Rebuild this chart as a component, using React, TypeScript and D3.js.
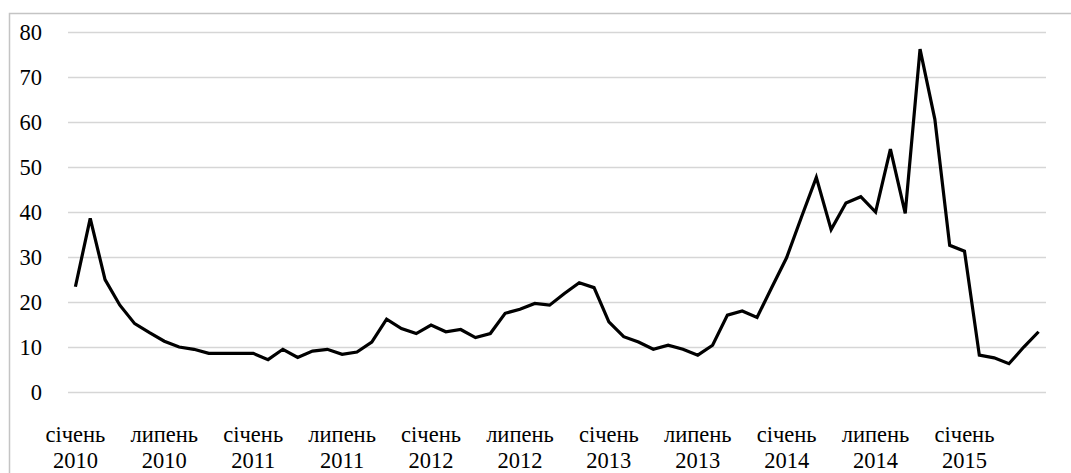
/* eslint-disable */
import React, { useEffect, useRef } from 'react';
import * as d3 from 'd3';

// monthly values, січень 2010 .. червень 2015
const months = d3.range(66).map((i) => `m${i}`);
const values = [
  23.5, 38.7, 25.1, 19.4, 15.3, 13.3, 11.4, 10.1, 9.6, 8.7, 8.7, 8.7,
  8.7, 7.3, 9.6, 7.8, 9.2, 9.6, 8.5, 9.0, 11.2, 16.3, 14.2, 13.1,
  15.0, 13.5, 14.0, 12.2, 13.1, 17.6, 18.5, 19.8, 19.4, 22.0, 24.4, 23.3,
  15.7, 12.4, 11.2, 9.6, 10.5, 9.6, 8.3, 10.5, 17.2, 18.1, 16.7, 23.4,
  30.0, 39.0, 47.8, 36.2, 42.1, 43.5, 40.1, 54.1, 39.8, 76.3, 60.7, 32.7,
  31.4, 8.3, 7.7, 6.4, 10.1, 13.5,
];
const yTicks = [0, 10, 20, 30, 40, 50, 60, 70, 80];
const tickMonths = ['січень', 'липень'];
const tickYears = ['2010', '2010', '2011', '2011', '2012', '2012', '2013', '2013', '2014', '2014', '2015'];

export default function App() {
  const ref = useRef<SVGSVGElement>(null);

  useEffect(() => {
    if (!ref.current) return;
    const svg = d3.select(ref.current);
    svg.selectAll('*').remove();

    const width = 1071;
    const height = 473;
    const font = '"Liberation Serif", "DejaVu Serif", serif';

    // outer frame
    svg
      .append('rect')
      .attr('x', 9.5)
      .attr('y', 13.5)
      .attr('width', width + 20)
      .attr('height', height + 20)
      .attr('fill', 'none')
      .attr('stroke', '#c4c4c4')
      .attr('stroke-width', 1.5);

    const x = d3.scalePoint<string>().domain(months).range([68, 1046]).padding(0.5);
    const y = d3.scaleLinear().domain([0, 80]).range([392.5, 32.5]);

    // ------- Grid -------
    svg
      .append('g')
      .selectAll('line')
      .data(yTicks)
      .enter()
      .append('line')
      .attr('x1', 68)
      .attr('x2', 1046)
      .attr('y1', (d) => y(d))
      .attr('y2', (d) => y(d))
      .attr('stroke', '#d6d6d6')
      .attr('stroke-width', 1.3);

    svg
      .append('g')
      .selectAll('text')
      .data(yTicks)
      .enter()
      .append('text')
      .attr('x', 42)
      .attr('y', (d) => y(d))
      .attr('dy', '0.35em')
      .attr('text-anchor', 'end')
      .attr('font-family', font)
      .attr('font-size', 22.5)
      .attr('fill', '#000')
      .text((d) => d);

    // ------- X labels -------
    const ticks = tickYears.map((yr, i) => ({ m: months[i * 6], month: tickMonths[i % 2], year: yr }));
    const xl = svg
      .append('g')
      .selectAll('text')
      .data(ticks)
      .enter()
      .append('text')
      .attr('text-anchor', 'middle')
      .attr('font-family', font)
      .attr('font-size', 22.5)
      .attr('fill', '#000');
    xl.append('tspan')
      .attr('x', (d) => x(d.m)!)
      .attr('y', 442)
      .text((d) => d.month);
    xl.append('tspan')
      .attr('x', (d) => x(d.m)!)
      .attr('y', 468)
      .text((d) => d.year);

    // ------- Line -------
    const line = d3
      .line<number>()
      .x((d, i) => x(months[i])!)
      .y((d) => y(d));

    svg
      .append('path')
      .datum(values)
      .attr('fill', 'none')
      .attr('stroke', '#000')
      .attr('stroke-width', 3.2)
      .attr('stroke-linejoin', 'miter')
      .attr('d', line);
  }, []);

  return (
    <svg
      ref={ref}
      width={1071}
      height={473}
      style={{ position: 'absolute', left: 0, top: 0, background: '#fff' }}
    />
  );
}
